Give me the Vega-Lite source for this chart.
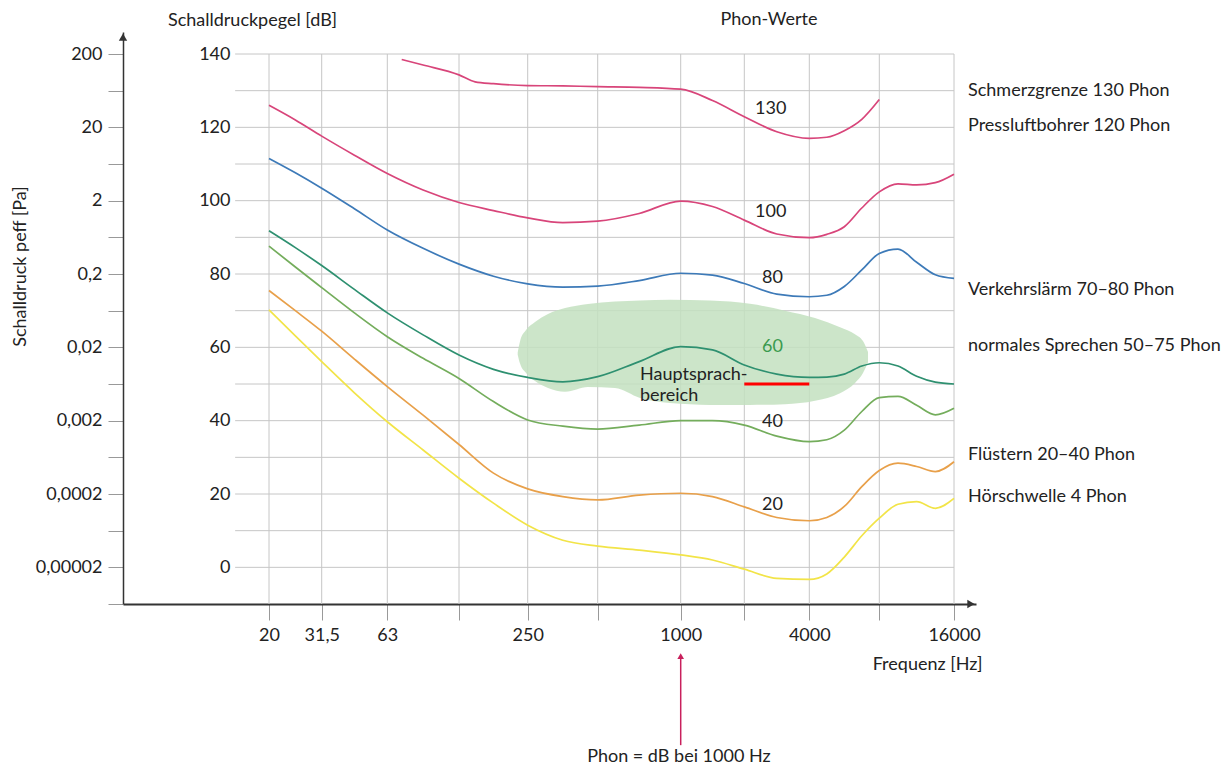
{
  "$schema": "https://vega.github.io/schema/vega-lite/v6.json",
  "width": 853,
  "height": 572,
  "autosize": "none",
  "padding": {"left": 123, "top": 32, "right": 252, "bottom": 165},
  "background": "white",
  "config": {"view": {"stroke": null}, "font": "Lato", "text": {"font": "Lato"}},
  "datasets": {
    "vgrid": [{"f": 20}, {"f": 31.5}, {"f": 63}, {"f": 125}, {"f": 250}, {"f": 500}, {"f": 1000}, {"f": 2000}, {"f": 4000}, {"f": 8000}, {"f": 16000}],
    "hgrid": [{"db": 0}, {"db": 10}, {"db": 20}, {"db": 30}, {"db": 40}, {"db": 50}, {"db": 60}, {"db": 70}, {"db": 80}, {"db": 90}, {"db": 100}, {"db": 110}, {"db": 120}, {"db": 130}, {"db": 140}],
    "blob": [
      {"f": 226, "top": 58.6, "bot": 58.0},
      {"f": 231.6, "top": 61.7, "bot": 55.5},
      {"f": 245.8, "top": 64.7, "bot": 53.0},
      {"f": 268.8, "top": 66.9, "bot": 50.8},
      {"f": 305.7, "top": 69.1, "bot": 48.9},
      {"f": 362, "top": 70.7, "bot": 47.9},
      {"f": 454, "top": 71.8, "bot": 49.2},
      {"f": 577.6, "top": 72.5, "bot": 48.9},
      {"f": 712, "top": 72.8, "bot": 46.2},
      {"f": 914.5, "top": 73.0, "bot": 44.8},
      {"f": 1376, "top": 72.8, "bot": 44.3},
      {"f": 2126, "top": 71.9, "bot": 44.3},
      {"f": 3087, "top": 70.0, "bot": 44.5},
      {"f": 4233, "top": 68.0, "bot": 45.4},
      {"f": 5422, "top": 65.5, "bot": 47.5},
      {"f": 6290, "top": 63.6, "bot": 50.3},
      {"f": 6807, "top": 61.7, "bot": 53.0},
      {"f": 7155, "top": 58.7, "bot": 55.9}
    ],
    "curves": [
      {"phon": "130", "f": 72.3, "db": 138.5}, {"phon": "130", "f": 88.7, "db": 137.0}, {"phon": "130", "f": 125, "db": 134.3}, {"phon": "130", "f": 147, "db": 132.4}, {"phon": "130", "f": 177, "db": 131.9}, {"phon": "130", "f": 250, "db": 131.4}, {"phon": "130", "f": 354, "db": 131.3}, {"phon": "130", "f": 500, "db": 131.1}, {"phon": "130", "f": 707, "db": 130.9}, {"phon": "130", "f": 1000, "db": 130.4}, {"phon": "130", "f": 1414, "db": 127.3}, {"phon": "130", "f": 2000, "db": 122.9}, {"phon": "130", "f": 2828, "db": 118.8}, {"phon": "130", "f": 4000, "db": 117.0}, {"phon": "130", "f": 4757, "db": 117.3}, {"phon": "130", "f": 5657, "db": 119.1}, {"phon": "130", "f": 6727, "db": 122.2}, {"phon": "130", "f": 8000, "db": 127.6},
      {"phon": "100", "f": 20, "db": 126.0}, {"phon": "100", "f": 25.1, "db": 122.0}, {"phon": "100", "f": 31.5, "db": 117.6}, {"phon": "100", "f": 44.5, "db": 112.4}, {"phon": "100", "f": 63, "db": 107.4}, {"phon": "100", "f": 88.7, "db": 102.9}, {"phon": "100", "f": 125, "db": 99.5}, {"phon": "100", "f": 177, "db": 97.3}, {"phon": "100", "f": 250, "db": 95.3}, {"phon": "100", "f": 354, "db": 94.0}, {"phon": "100", "f": 500, "db": 94.4}, {"phon": "100", "f": 707, "db": 96.5}, {"phon": "100", "f": 1000, "db": 99.9}, {"phon": "100", "f": 1414, "db": 98.4}, {"phon": "100", "f": 2000, "db": 94.7}, {"phon": "100", "f": 2828, "db": 90.9}, {"phon": "100", "f": 4000, "db": 89.9}, {"phon": "100", "f": 4757, "db": 90.8}, {"phon": "100", "f": 5657, "db": 92.9}, {"phon": "100", "f": 6727, "db": 98.0}, {"phon": "100", "f": 8000, "db": 102.4}, {"phon": "100", "f": 9514, "db": 104.6}, {"phon": "100", "f": 11314, "db": 104.3}, {"phon": "100", "f": 13454, "db": 104.9}, {"phon": "100", "f": 16000, "db": 107.2},
      {"phon": "80", "f": 20, "db": 111.5}, {"phon": "80", "f": 25.1, "db": 107.6}, {"phon": "80", "f": 31.5, "db": 103.4}, {"phon": "80", "f": 44.5, "db": 97.8}, {"phon": "80", "f": 63, "db": 92.0}, {"phon": "80", "f": 88.7, "db": 87.0}, {"phon": "80", "f": 125, "db": 82.7}, {"phon": "80", "f": 177, "db": 79.4}, {"phon": "80", "f": 250, "db": 77.3}, {"phon": "80", "f": 354, "db": 76.4}, {"phon": "80", "f": 500, "db": 76.7}, {"phon": "80", "f": 707, "db": 78.2}, {"phon": "80", "f": 1000, "db": 80.2}, {"phon": "80", "f": 1414, "db": 79.7}, {"phon": "80", "f": 2000, "db": 77.4}, {"phon": "80", "f": 2828, "db": 74.5}, {"phon": "80", "f": 4000, "db": 73.8}, {"phon": "80", "f": 4757, "db": 74.2}, {"phon": "80", "f": 5657, "db": 76.6}, {"phon": "80", "f": 6727, "db": 81.1}, {"phon": "80", "f": 8000, "db": 85.6}, {"phon": "80", "f": 9514, "db": 86.8}, {"phon": "80", "f": 11314, "db": 83.2}, {"phon": "80", "f": 13454, "db": 79.8}, {"phon": "80", "f": 16000, "db": 78.8},
      {"phon": "60", "f": 20, "db": 91.8}, {"phon": "60", "f": 25.1, "db": 87.2}, {"phon": "60", "f": 31.5, "db": 82.3}, {"phon": "60", "f": 44.5, "db": 75.8}, {"phon": "60", "f": 63, "db": 69.4}, {"phon": "60", "f": 88.7, "db": 63.4}, {"phon": "60", "f": 125, "db": 57.9}, {"phon": "60", "f": 177, "db": 54.0}, {"phon": "60", "f": 250, "db": 51.8}, {"phon": "60", "f": 354, "db": 50.6}, {"phon": "60", "f": 500, "db": 52.0}, {"phon": "60", "f": 707, "db": 56.1}, {"phon": "60", "f": 1000, "db": 60.2}, {"phon": "60", "f": 1414, "db": 59.3}, {"phon": "60", "f": 2000, "db": 55.2}, {"phon": "60", "f": 2828, "db": 52.7}, {"phon": "60", "f": 4000, "db": 51.8}, {"phon": "60", "f": 4757, "db": 51.9}, {"phon": "60", "f": 5657, "db": 52.7}, {"phon": "60", "f": 6727, "db": 54.9}, {"phon": "60", "f": 8000, "db": 55.8}, {"phon": "60", "f": 9514, "db": 54.9}, {"phon": "60", "f": 11314, "db": 52.1}, {"phon": "60", "f": 13454, "db": 50.5}, {"phon": "60", "f": 16000, "db": 50.0},
      {"phon": "40", "f": 20, "db": 87.6}, {"phon": "40", "f": 25.1, "db": 81.9}, {"phon": "40", "f": 31.5, "db": 76.3}, {"phon": "40", "f": 44.5, "db": 69.4}, {"phon": "40", "f": 63, "db": 62.9}, {"phon": "40", "f": 88.7, "db": 57.0}, {"phon": "40", "f": 125, "db": 51.5}, {"phon": "40", "f": 177, "db": 45.2}, {"phon": "40", "f": 250, "db": 40.2}, {"phon": "40", "f": 354, "db": 38.5}, {"phon": "40", "f": 500, "db": 37.7}, {"phon": "40", "f": 707, "db": 38.8}, {"phon": "40", "f": 1000, "db": 40.0}, {"phon": "40", "f": 1414, "db": 40.0}, {"phon": "40", "f": 2000, "db": 38.8}, {"phon": "40", "f": 2828, "db": 35.8}, {"phon": "40", "f": 4000, "db": 34.3}, {"phon": "40", "f": 4757, "db": 34.8}, {"phon": "40", "f": 5657, "db": 37.4}, {"phon": "40", "f": 6727, "db": 42.5}, {"phon": "40", "f": 8000, "db": 46.3}, {"phon": "40", "f": 9514, "db": 46.6}, {"phon": "40", "f": 11314, "db": 44.2}, {"phon": "40", "f": 13454, "db": 41.6}, {"phon": "40", "f": 16000, "db": 43.4},
      {"phon": "20", "f": 20, "db": 75.5}, {"phon": "20", "f": 25.1, "db": 70.0}, {"phon": "20", "f": 31.5, "db": 64.4}, {"phon": "20", "f": 44.5, "db": 56.8}, {"phon": "20", "f": 63, "db": 49.3}, {"phon": "20", "f": 88.7, "db": 41.5}, {"phon": "20", "f": 125, "db": 33.5}, {"phon": "20", "f": 177, "db": 25.7}, {"phon": "20", "f": 250, "db": 21.4}, {"phon": "20", "f": 354, "db": 19.3}, {"phon": "20", "f": 500, "db": 18.4}, {"phon": "20", "f": 707, "db": 19.7}, {"phon": "20", "f": 1000, "db": 20.2}, {"phon": "20", "f": 1414, "db": 19.3}, {"phon": "20", "f": 2000, "db": 16.5}, {"phon": "20", "f": 2828, "db": 13.6}, {"phon": "20", "f": 4000, "db": 12.7}, {"phon": "20", "f": 4757, "db": 13.6}, {"phon": "20", "f": 5657, "db": 16.6}, {"phon": "20", "f": 6727, "db": 22.0}, {"phon": "20", "f": 8000, "db": 26.4}, {"phon": "20", "f": 9514, "db": 28.4}, {"phon": "20", "f": 11314, "db": 27.5}, {"phon": "20", "f": 13454, "db": 26.1}, {"phon": "20", "f": 16000, "db": 28.8},
      {"phon": "4", "f": 20, "db": 70.2}, {"phon": "4", "f": 25.1, "db": 63.1}, {"phon": "4", "f": 31.5, "db": 56.1}, {"phon": "4", "f": 44.5, "db": 47.6}, {"phon": "4", "f": 63, "db": 39.7}, {"phon": "4", "f": 88.7, "db": 32.0}, {"phon": "4", "f": 125, "db": 24.3}, {"phon": "4", "f": 177, "db": 17.5}, {"phon": "4", "f": 250, "db": 11.5}, {"phon": "4", "f": 354, "db": 7.4}, {"phon": "4", "f": 500, "db": 5.8}, {"phon": "4", "f": 707, "db": 4.7}, {"phon": "4", "f": 1000, "db": 3.4}, {"phon": "4", "f": 1414, "db": 2.0}, {"phon": "4", "f": 2000, "db": -0.5}, {"phon": "4", "f": 2828, "db": -3.0}, {"phon": "4", "f": 4000, "db": -3.3}, {"phon": "4", "f": 4757, "db": -1.8}, {"phon": "4", "f": 5657, "db": 2.8}, {"phon": "4", "f": 6727, "db": 8.6}, {"phon": "4", "f": 8000, "db": 13.4}, {"phon": "4", "f": 9514, "db": 17.2}, {"phon": "4", "f": 11314, "db": 17.9}, {"phon": "4", "f": 13454, "db": 16.1}, {"phon": "4", "f": 16000, "db": 18.8}
    ],
    "phonLabels": [
      {"f": 2650, "db": 124.9, "text": "130"},
      {"f": 2650, "db": 96.8, "text": "100"},
      {"f": 2700, "db": 78.8, "text": "80"},
      {"f": 2700, "db": 60.0, "text": "60"},
      {"f": 2700, "db": 39.7, "text": "40"},
      {"f": 2700, "db": 17.0, "text": "20"}
    ],
    "sideLabels": [
      {"db": 130.0, "text": "Schmerzgrenze 130 Phon"},
      {"db": 120.4, "text": "Pressluftbohrer 120 Phon"},
      {"db": 75.6, "text": "Verkehrslärm 70–80 Phon"},
      {"db": 60.4, "text": "normales Sprechen 50–75 Phon"},
      {"db": 30.6, "text": "Flüstern 20–40 Phon"},
      {"db": 19.3, "text": "Hörschwelle 4 Phon"}
    ],
    "centerNotes": [
      {"f": 2600, "db": 149.3, "text": "Phon-Werte"},
      {"f": 985, "db": -51.8, "text": "Phon = dB bei 1000 Hz"}
    ],
    "leftNotes": [
      {"f": 712, "db": 52.5, "text": "Hauptsprach-"},
      {"f": 712, "db": 46.8, "text": "bereich"}
    ]
  },
  "resolve": {"axis": {"y": "independent"}},
  "layer": [
    {
      "data": {"name": "vgrid"},
      "mark": {"type": "rule", "color": "#c6c6c6", "strokeWidth": 1},
      "encoding": {
        "x": {
          "field": "f", "type": "quantitative",
          "scale": {
            "type": "log", "nice": false,
            "domain": [5, 20, 31.5, 63, 125, 250, 500, 1000, 2000, 4000, 8000, 16000, 20000],
            "range": [0, 146, 198.7, 264.3, 336, 404.7, 474.7, 557.7, 621.3, 686.3, 756.3, 831, 853]
          },
          "axis": {
            "values": [20, 31.5, 63, 125, 250, 500, 1000, 2000, 4000, 8000, 16000],
            "labelExpr": "datum.value == 31.5 ? '31,5' : (datum.value == 125 || datum.value == 500 || datum.value == 2000 || datum.value == 8000) ? '' : format(datum.value, 'd')",
            "grid": false,
            "domainColor": "#333333", "domainWidth": 2,
            "tickColor": "#999999", "tickSize": 16, "tickWidth": 1,
            "labelFontSize": 18, "labelColor": "#222222", "labelPadding": 6,
            "labelFlush": false, "labelOverlap": false, "labelBound": false,
            "title": "Frequenz [Hz]", "titleFontSize": 18, "titleFontWeight": "normal", "titleColor": "#222222",
            "titleX": 859, "titleY": 60, "titleAlign": "right", "titleBaseline": "middle", "titleAnchor": "end"
          }
        },
        "y": {"datum": -10, "type": "quantitative", "axis": null},
        "y2": {"datum": 140}
      }
    },
    {
      "data": {"name": "hgrid"},
      "mark": {"type": "rule", "color": "#c6c6c6", "strokeWidth": 1},
      "encoding": {
        "x": {"datum": 14.5, "type": "quantitative"},
        "x2": {"datum": 16000},
        "y": {
          "field": "db", "type": "quantitative",
          "scale": {"domain": [-10, 146], "nice": false, "zero": false},
          "axis": {
            "orient": "left", "offset": -112,
            "values": [0, 20, 40, 60, 80, 100, 120, 140],
            "domain": false, "ticks": false, "tickSize": 0, "grid": false,
            "labelPadding": 5, "labelFontSize": 18, "labelColor": "#222222", "labelOverlap": false, "labelBound": false,
            "title": "Schalldruckpegel [dB]", "titleAngle": 0, "titleFontSize": 18, "titleFontWeight": "normal", "titleColor": "#222222",
            "titleX": 17, "titleY": -12, "titleAlign": "center", "titleBaseline": "middle"
          }
        }
      }
    },
    {
      "data": {"name": "blob"},
      "mark": {"type": "area", "color": "#c3e1bf", "opacity": 0.85, "interpolate": "monotone"},
      "encoding": {
        "x": {"field": "f", "type": "quantitative"},
        "y": {"field": "top", "type": "quantitative", "axis": null},
        "y2": {"field": "bot"}
      }
    },
    {
      "data": {"values": [{}]},
      "mark": {"type": "rule", "color": "#ff0000", "strokeWidth": 3},
      "encoding": {
        "x": {"datum": 2000, "type": "quantitative"},
        "x2": {"datum": 4000},
        "y": {"datum": 50, "type": "quantitative", "axis": null}
      }
    },
    {
      "data": {"name": "curves"},
      "mark": {"type": "line", "interpolate": "monotone", "strokeWidth": 1.7},
      "encoding": {
        "x": {"field": "f", "type": "quantitative"},
        "y": {
          "field": "db", "type": "quantitative",
          "axis": {
            "orient": "left",
            "values": [-10, 0, 10, 20, 30, 40, 50, 60, 70, 80, 90, 100, 110, 120, 130, 140],
            "labelExpr": "datum.value == 140 ? '200' : datum.value == 120 ? '20' : datum.value == 100 ? '2' : datum.value == 80 ? '0,2' : datum.value == 60 ? '0,02' : datum.value == 40 ? '0,002' : datum.value == 20 ? '0,0002' : datum.value == 0 ? '0,00002' : ''",
            "grid": false,
            "domainColor": "#333333", "domainWidth": 1.5,
            "tickColor": "#999999", "tickSize": 15, "tickWidth": 1,
            "labelPadding": 6, "labelFontSize": 18, "labelColor": "#222222", "labelOverlap": false, "labelBound": false,
            "title": "Schalldruck peff [Pa]", "titleAngle": -90, "titleFontSize": 18, "titleFontWeight": "normal", "titleColor": "#222222",
            "titleX": -103, "titleY": 234, "titleAlign": "center", "titleBaseline": "middle"
          }
        },
        "color": {
          "field": "phon", "type": "nominal", "legend": null,
          "scale": {
            "domain": ["130", "100", "80", "60", "40", "20", "4"],
            "range": ["#d8457a", "#d8457a", "#3d7ab8", "#2e9070", "#74ad5c", "#e8a04a", "#f2e448"]
          }
        },
        "detail": {"field": "phon"}
      }
    },
    {
      "data": {"name": "phonLabels"},
      "mark": {"type": "text", "fontSize": 18, "align": "center", "baseline": "middle"},
      "encoding": {
        "x": {"field": "f", "type": "quantitative"},
        "y": {"field": "db", "type": "quantitative", "axis": null},
        "text": {"field": "text"},
        "color": {"condition": {"test": "datum.text == '60'", "value": "#3a9a4e"}, "value": "#222222"}
      }
    },
    {
      "data": {"name": "sideLabels"},
      "mark": {"type": "text", "fontSize": 18, "align": "left", "baseline": "middle", "dx": 14, "color": "#222222"},
      "encoding": {
        "x": {"datum": 16000, "type": "quantitative"},
        "y": {"field": "db", "type": "quantitative", "axis": null},
        "text": {"field": "text"}
      }
    },
    {
      "data": {"name": "centerNotes"},
      "mark": {"type": "text", "fontSize": 18, "align": "center", "baseline": "middle", "color": "#222222"},
      "encoding": {
        "x": {"field": "f", "type": "quantitative"},
        "y": {"field": "db", "type": "quantitative", "axis": null},
        "text": {"field": "text"}
      }
    },
    {
      "data": {"name": "leftNotes"},
      "mark": {"type": "text", "fontSize": 18, "align": "left", "baseline": "middle", "color": "#222222"},
      "encoding": {
        "x": {"field": "f", "type": "quantitative"},
        "y": {"field": "db", "type": "quantitative", "axis": null},
        "text": {"field": "text"}
      }
    },
    {
      "data": {"values": [{}]},
      "mark": {"type": "point", "shape": "triangle-right", "filled": true, "size": 70, "color": "#333333", "opacity": 1},
      "encoding": {
        "x": {"datum": 19000, "type": "quantitative"},
        "y": {"datum": -10, "type": "quantitative", "axis": null}
      }
    },
    {
      "data": {"values": [{}]},
      "mark": {"type": "point", "shape": "triangle-up", "filled": true, "size": 70, "color": "#333333", "opacity": 1},
      "encoding": {
        "x": {"datum": 5, "type": "quantitative"},
        "y": {"datum": 144.6, "type": "quantitative", "axis": null}
      }
    },
    {
      "data": {"values": [{}]},
      "mark": {"type": "rule", "color": "#c8205c", "strokeWidth": 1.5},
      "encoding": {
        "x": {"datum": 1000, "type": "quantitative"},
        "y": {"datum": -48.5, "type": "quantitative", "axis": null},
        "y2": {"datum": -24.5}
      }
    },
    {
      "data": {"values": [{}]},
      "mark": {"type": "point", "shape": "triangle-up", "filled": true, "size": 45, "color": "#c8205c", "opacity": 1},
      "encoding": {
        "x": {"datum": 1000, "type": "quantitative"},
        "y": {"datum": -24.2, "type": "quantitative", "axis": null}
      }
    }
  ]
}
